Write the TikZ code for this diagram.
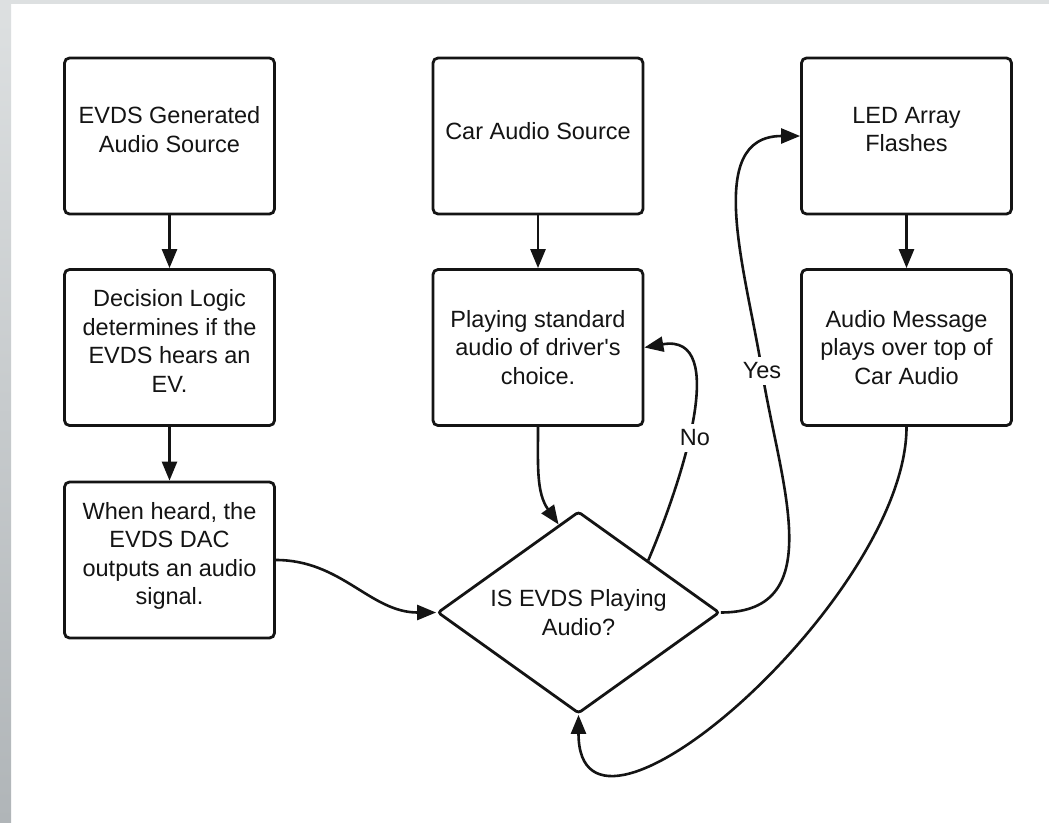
\documentclass[tikz,border=0pt]{standalone}
\usepackage{fontspec}
\setmainfont{Liberation Sans}
\usetikzlibrary{shapes.geometric,arrows.meta,calc}

\definecolor{frametop}{RGB}{221,224,225}
\definecolor{framebot}{RGB}{176,181,184}
\definecolor{ink}{RGB}{20,20,20}

\begin{document}
\begin{tikzpicture}[x=1pt,y=-1pt,
  every node/.style={font=\fontsize{23.5}{28.5}\selectfont, text=ink},
  stepbox/.style={draw=ink, line width=2.8pt, rounded corners=5pt,
    minimum width=210pt, minimum height=156pt, inner sep=0pt, align=center},
  % fixed struts on the first and last line: sets the text block a little above the middle
  lift/.style={execute at begin node={\rule{0pt}{20pt}},
    execute at end node={\rule[-13.2pt]{0pt}{0pt}}},
  choice/.style={draw=ink, diamond, aspect=1.4, line width=2.8pt, rounded corners=3pt,
    minimum width=282pt, minimum height=202pt, inner sep=0pt, align=center},
  flow/.style={draw=ink, line width=2.6pt, -{Triangle[length=19pt,width=15pt]}},
  tag/.style={fill=white, inner xsep=2pt, inner ysep=6pt}
]
% canvas and the grey frame on the left and top
\useasboundingbox (0,0) rectangle (1049,822);
\fill[white] (0,0) rectangle (1049,822);
\shade[top color=frametop, bottom color=framebot] (0,0) rectangle (11,822);
\fill[frametop] (0,0) rectangle (1049,4);

% process boxes
\node[stepbox,lift] (src)   at (169.5,136)   {EVDS Generated\\Audio Source};
\node[stepbox,lift] (logic) at (169.5,347.5) {Decision Logic\\determines if the\\EVDS hears an\\EV.};
\node[stepbox,lift] (dac)   at (169.5,560)   {When heard, the\\EVDS DAC\\outputs an audio\\signal.};
\node[stepbox,lift] (car)   at (538,136)     {Car Audio Source};
\node[stepbox]      (play)  at (538,347.5)   {Playing standard\\audio of driver\textquotesingle s\\choice.};
\node[stepbox,lift] (led)   at (906.5,136)   {LED Array\\Flashes};
\node[stepbox]      (msg)   at (906.5,347.5) {Audio Message\\plays over top of\\Car Audio};

% decision
\node[choice] (ask) at (578.5,612.5) {IS EVDS Playing\\Audio?};

% points on the diamond's upper edges
\coordinate (askin) at ($(ask.north)!0.14!(ask.west)$);
\coordinate (askne) at ($(ask.north)!0.49!(ask.east)$);
\coordinate (yesmid) at (762,371);

% straight links
\draw[flow] (src) -- (logic);
\draw[flow] (logic) -- (dac);
\draw[flow] (car) -- (play);
\draw[flow] (led) -- (msg);

% curved links
\draw[flow] (dac.east) to[out=0,in=180] (ask.west);
\draw[flow] (play.south) to[out=-90,in=125] (askin);
\draw[flow] (askne) to[out=67,in=10,looseness=1.05] (play.east);
\draw[flow] (ask.east) to[out=0,in=-81,looseness=1.15] (yesmid) to[out=99,in=180,looseness=1.05] (led.west);
\draw[flow] (msg.south) to[out=-90,in=-90] (ask.south);

% branch labels
\node[tag] (no)  at (695,438)  {No};
\node[tag] (yes) at (yesmid)   {Yes};
\end{tikzpicture}
\end{document}
